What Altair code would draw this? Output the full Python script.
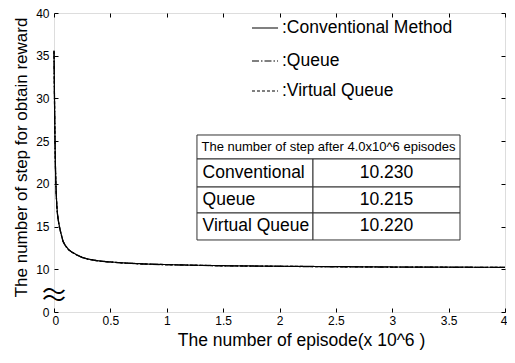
import altair as alt
import pandas as pd

# ---------------- data ----------------
episodes = [0.0, 0.004, 0.008, 0.012, 0.016, 0.02, 0.025, 0.03, 0.04, 0.05, 0.06,
            0.08, 0.1, 0.13, 0.16, 0.2, 0.25, 0.3, 0.4, 0.5, 0.6, 0.8, 1.0, 1.25,
            1.5, 2.0, 2.5, 3.0, 3.5, 4.0]
conventional = [35.6, 30.5, 26.0, 22.5, 20.3, 18.8, 17.5, 16.6, 15.6, 14.9, 14.3,
                13.3, 12.8, 12.3, 12.0, 11.7, 11.4, 11.2, 10.98, 10.86, 10.76, 10.63,
                10.55, 10.48, 10.42, 10.36, 10.31, 10.27, 10.25, 10.230]
queue = [35.5, 30.3, 25.8, 22.4, 20.2, 18.7, 17.4, 16.5, 15.5, 14.85, 14.25,
         13.25, 12.75, 12.28, 11.98, 11.68, 11.38, 11.18, 10.96, 10.84, 10.74, 10.61,
         10.53, 10.46, 10.40, 10.34, 10.29, 10.255, 10.235, 10.215]
virtual_queue = [35.55, 30.4, 25.9, 22.45, 20.25, 18.75, 17.45, 16.55, 15.55, 14.88, 14.28,
                 13.28, 12.78, 12.29, 11.99, 11.69, 11.39, 11.19, 10.97, 10.85, 10.75, 10.62,
                 10.54, 10.47, 10.41, 10.35, 10.30, 10.26, 10.24, 10.220]
series_names = ["Conventional Method", "Queue", "Virtual Queue"]

table_header = "The number of step after 4.0x10^6  episodes"
table_methods = ["Conventional", "Queue", "Virtual Queue"]
table_values = ["10.230", "10.215", "10.220"]

x_ticks = [0, 0.5, 1, 1.5, 2, 2.5, 3, 3.5, 4]
y_ticks = [5, 10, 15, 20, 25, 30, 35, 40]

# ---------------- layout (data units) ----------------
X_DOM = [0, 4]
Y_DOM = [5, 40]
LEG_X = [1.756, 1.987, 2.022]
LEG_Y = [38.24, 34.38, 30.87]
TAB_X = [1.268, 2.297, 3.601]
TAB_Y = [25.72, 22.91, 19.63, 16.59, 13.43]
BREAK_Y = [7.22, 6.41]
DASHES = [[1, 0], [7, 2, 1.5, 2], [3, 2]]
FONT = "Liberation Sans"

rows = []
for name, vals in zip(series_names, [conventional, queue, virtual_queue]):
    for x, y in zip(episodes, vals):
        rows.append({"x": x, "y": y, "series": name})
df = pd.DataFrame(rows)

xs = alt.Scale(domain=X_DOM, nice=False, zero=False)
ys = alt.Scale(domain=Y_DOM, nice=False, zero=False)
dash = alt.Scale(domain=series_names, range=DASHES)

main_x_axis = alt.Axis(
    values=x_ticks, format="~g", orient="bottom", offset=-4, tickSize=4,
    domain=False, grid=False, labelPadding=3, labelFontSize=12, labelFont=FONT,
    labelColor="black", tickColor="black", labelFlush=True, labelFlushOffset=2,
    title="The number of episode(x 10^6 )", titleFont=FONT, titleFontSize=17.5,
    titleFontWeight="normal", titleColor="black", titleX=247, titleY=32,
    titleBaseline="middle", titleAlign="center",
)
main_y_axis = alt.Axis(
    values=y_ticks, labelExpr="datum.value == 5 ? '0' : datum.label",
    orient="left", offset=-4, tickSize=4, domain=False, grid=False,
    labelPadding=5, labelFontSize=12, labelFont=FONT, labelColor="black",
    tickColor="black", labelFlush=False,
    title="The number of step for obtain reward", titleFont=FONT,
    titleFontSize=17, titleFontWeight="normal", titleColor="black",
    titleX=-37, titleY=144, titleBaseline="middle", titleAlign="center",
    titleAngle=270,
)

lines = alt.Chart(df).mark_line(color="black", strokeWidth=1.2).encode(
    x=alt.X("x:Q", scale=xs, axis=main_x_axis),
    y=alt.Y("y:Q", scale=ys, axis=main_y_axis),
    strokeDash=alt.StrokeDash("series:N", scale=dash, legend=None),
    detail="series:N",
)

frame = alt.Chart(pd.DataFrame({"x": X_DOM, "y": Y_DOM})).mark_point(opacity=0).encode(
    x=alt.X("x:Q", scale=xs, axis=alt.Axis(values=x_ticks, orient="top", offset=-4,
                                            tickSize=4, labels=False, domain=False,
                                            grid=False, title=None, tickColor="black")),
    y=alt.Y("y:Q", scale=ys, axis=alt.Axis(values=y_ticks, orient="right", offset=-4,
                                            tickSize=4, labels=False, domain=False,
                                            grid=False, title=None, tickColor="black")),
)

# legend
leg_df = pd.DataFrame({
    "series": series_names,
    "label": [":" + s for s in series_names],
    "y": LEG_Y,
    "x": [LEG_X[0]] * 3,
    "x2": [LEG_X[1]] * 3,
    "xt": [LEG_X[2]] * 3,
})
leg_lines = alt.Chart(leg_df).mark_rule(color="black", strokeWidth=1.1).encode(
    x=alt.X("x:Q", scale=xs, axis=None), x2="x2:Q",
    y=alt.Y("y:Q", scale=ys, axis=None),
    strokeDash=alt.StrokeDash("series:N", scale=dash, legend=None),
)
leg_text = alt.Chart(leg_df).mark_text(align="left", baseline="middle", font=FONT,
                                       fontSize=17.5, color="black").encode(
    x=alt.X("xt:Q", scale=xs, axis=None),
    y=alt.Y("y:Q", scale=ys, axis=None),
    text="label:N",
)

# table
cells = [{"x": TAB_X[0], "x2": TAB_X[2], "y": TAB_Y[0], "y2": TAB_Y[1]}]
for i in range(3):
    cells.append({"x": TAB_X[0], "x2": TAB_X[1], "y": TAB_Y[i + 1], "y2": TAB_Y[i + 2]})
    cells.append({"x": TAB_X[1], "x2": TAB_X[2], "y": TAB_Y[i + 1], "y2": TAB_Y[i + 2]})
cell_df = pd.DataFrame(cells)
table_rects = alt.Chart(cell_df).mark_rect(fill="white", stroke="#333333",
                                           strokeWidth=1).encode(
    x=alt.X("x:Q", scale=xs, axis=None), x2="x2:Q",
    y=alt.Y("y:Q", scale=ys, axis=None), y2="y2:Q",
)
hdr_df = pd.DataFrame({"t": [table_header], "x": [(TAB_X[0] + TAB_X[2]) / 2],
                       "y": [(TAB_Y[0] + TAB_Y[1]) / 2]})
table_hdr = alt.Chart(hdr_df).mark_text(align="center", baseline="middle", font=FONT,
                                        fontSize=13, color="black").encode(
    x=alt.X("x:Q", scale=xs, axis=None), y=alt.Y("y:Q", scale=ys, axis=None), text="t:N")
row_y = [(TAB_Y[i + 1] + TAB_Y[i + 2]) / 2 for i in range(3)]
meth_df = pd.DataFrame({"t": table_methods, "x": [TAB_X[0] + 0.05] * 3, "y": row_y})
val_df = pd.DataFrame({"t": table_values, "x": [(TAB_X[1] + TAB_X[2]) / 2] * 3, "y": row_y})
table_meth = alt.Chart(meth_df).mark_text(align="left", baseline="middle", font=FONT,
                                          fontSize=17.5, color="black").encode(
    x=alt.X("x:Q", scale=xs, axis=None), y=alt.Y("y:Q", scale=ys, axis=None), text="t:N")
table_val = alt.Chart(val_df).mark_text(align="center", baseline="middle", font=FONT,
                                        fontSize=17.5, color="black").encode(
    x=alt.X("x:Q", scale=xs, axis=None), y=alt.Y("y:Q", scale=ys, axis=None), text="t:N")

# axis break mark (two wave glyphs)
brk = alt.Chart(pd.DataFrame({"x": [0, 0], "y": BREAK_Y, "t": ["〜", "〜"]})).mark_text(
    align="center", baseline="middle", font="Noto Sans CJK JP", fontSize=24,
    color="black"
).encode(x=alt.X("x:Q", scale=xs, axis=None), y=alt.Y("y:Q", scale=ys, axis=None),
         text="t:N")

chart = alt.layer(
    lines, frame, table_rects, table_hdr, table_meth, table_val,
    leg_lines, leg_text, brk
).resolve_scale(x="independent", y="independent").properties(
    width=451, height=299,
    autosize=alt.AutoSizeParams(type="none"),
    padding={"left": 46, "top": 5, "right": 2, "bottom": 43},
).configure_view(stroke="black", strokeWidth=1).configure(background="white")

chart.save("out.html", embed_options={"renderer": "svg", "actions": False})
